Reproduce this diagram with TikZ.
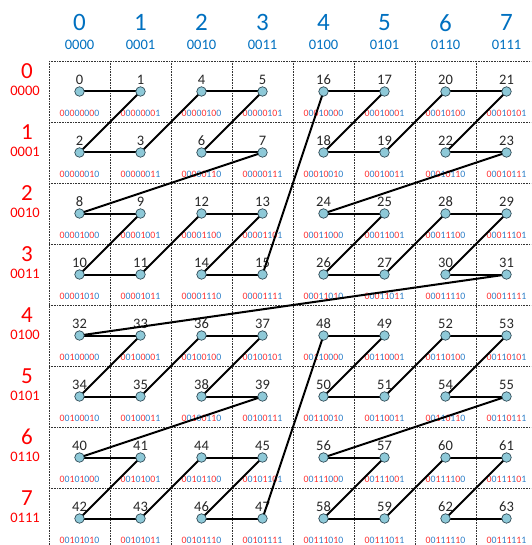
\documentclass[tikz,border=0pt]{standalone}
\usepackage{fontspec}
\setmainfont{Carlito}
\definecolor{hblue}{HTML}{0070C0}
\definecolor{hred}{HTML}{FF0000}
\definecolor{bred}{HTML}{FF3030}
\definecolor{bblue}{HTML}{2E7FC8}
\definecolor{dotfill}{HTML}{8EC9D8}
\definecolor{dotline}{HTML}{2F4A55}
\begin{document}
\begin{tikzpicture}[x=1pt,y=-1pt,
  gridline/.style={line width=0.7pt,dash pattern=on 0.7pt off 0.9pt,black!80},
  colhead/.style={text=hblue,font=\fontsize{25}{25}\selectfont,inner sep=0pt},
  colbin/.style={text=hblue,font=\fontsize{14.5}{14.5}\selectfont,inner sep=0pt},
  rowhead/.style={text=hred,font=\fontsize{23}{23}\selectfont,inner sep=0pt},
  rowbin/.style={text=hred,font=\fontsize{14.5}{14.5}\selectfont,inner sep=0pt},
  numlbl/.style={text=black!85,font=\fontsize{14.5}{14.5}\selectfont,inner sep=0pt},
  binlbl/.style={font=\fontsize{9.8}{9.8}\selectfont,inner sep=0pt},
  zline/.style={line width=2pt,black},
  dotn/.style={circle,fill=dotfill,draw=dotline,line width=0.7pt,minimum size=9.5pt,inner sep=0pt}]
\useasboundingbox (0,0) rectangle (531,545);
% grid
\begin{scope}
\clip (0,0) rectangle (531,545);
\foreach \c in {0,...,7}{
  \draw[gridline] ({49+61*\c},61) -- ({49+61*\c},550);
}
\foreach \r in {0,...,7}{
  \draw[gridline] (49,{61+61*\r}) -- (540,{61+61*\r});
}
\end{scope}
% headers
\foreach \c/\b in {0/0000,1/0001,2/0010,3/0011,4/0100,5/0101,6/0110,7/0111}{
  \node[colhead] (ch\c) at ({79.5+61*\c},22.7) {\c};
  \node[colbin] (cb\c) at ({79.5+61*\c},44.7) {\b};
  \node[rowhead] (rh\c) at (27,{70.7+61*\c}) {\c};
  \node[rowbin] (rb\c) at (25,{90.7+61*\c}) {\b};
}
% cells
\foreach \r in {0,...,7}{
  \foreach \c in {0,...,7}{
    \pgfmathtruncatemacro\ra{int(\r/4)}
    \pgfmathtruncatemacro\rb{mod(int(\r/2),2)}
    \pgfmathtruncatemacro\rc{mod(\r,2)}
    \pgfmathtruncatemacro\ca{int(\c/4)}
    \pgfmathtruncatemacro\cb{mod(int(\c/2),2)}
    \pgfmathtruncatemacro\cc{mod(\c,2)}
    \pgfmathtruncatemacro\n{32*\ra+16*\ca+8*\rb+4*\cb+2*\rc+\cc}
    \coordinate (p\n) at ({79.5+61*\c},{91.5+61*\r});
    \node[numlbl] (t\n) at ({79.5+61*\c},{79.5+61*\r}) {\n};
    \node[binlbl] (b\n) at ({79.5+61*\c},{113.5+61*\r})
      {\textcolor{bred}{0}\textcolor{bblue}{0}\textcolor{bred}{\ra}\textcolor{bblue}{\ca}\textcolor{bred}{\rb}\textcolor{bblue}{\cb}\textcolor{bred}{\rc}\textcolor{bblue}{\cc}};
  }
}
% Z-curve
\foreach \n [evaluate=\n as \m using int(\n+1)] in {0,...,62}{
  \draw[zline] (p\n) -- (p\m);
}
\foreach \n in {0,...,63}{
  \node[dotn] (d\n) at (p\n) {};
}
\end{tikzpicture}
\end{document}
